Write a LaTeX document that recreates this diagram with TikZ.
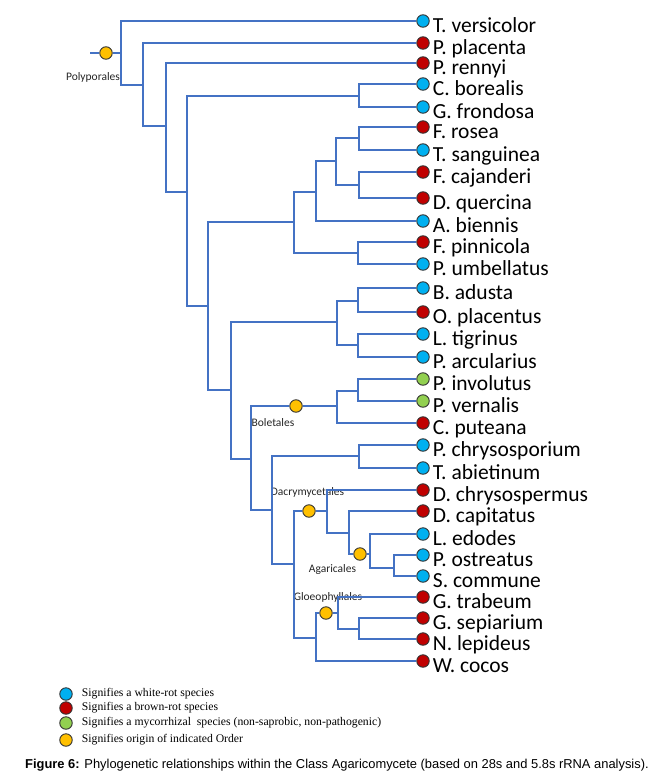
\documentclass[tikz,border=0pt]{standalone}
\usepackage{fontspec}
\usetikzlibrary{positioning}
\newfontfamily\carl{Carlito}
\newfontfamily\tnr{Liberation Serif}
\newfontfamily\ars{Liberation Sans}
\definecolor{treeblue}{RGB}{68,114,196}
\definecolor{whiterot}{RGB}{0,176,240}
\definecolor{brownrot}{RGB}{192,0,0}
\definecolor{mycor}{RGB}{146,208,80}
\definecolor{orderc}{RGB}{255,192,0}

\tikzstyle{wr} = [circle, draw=black!80, fill=whiterot, minimum size=12.5pt, inner sep=0pt, line width=0.9pt]
\tikzstyle{br} = [circle, draw=black!80, fill=brownrot, minimum size=12.5pt, inner sep=0pt, line width=0.9pt]
\tikzstyle{my} = [circle, draw=black!80, fill=mycor, minimum size=12.5pt, inner sep=0pt, line width=0.9pt]
\tikzstyle{od} = [circle, draw=black!80, fill=orderc, minimum size=12.5pt, inner sep=0pt, line width=0.9pt]
\tikzstyle{sp} = [font=\carl\fontsize{21.5}{24}\selectfont, inner sep=0pt, text height=14pt, text depth=4pt, yshift=-6pt]
\tikzstyle{ol} = [font=\carl\fontsize{11.5}{13}\selectfont, text=black!85, inner sep=0pt]
\tikzstyle{lg} = [font=\tnr\fontsize{11.7}{13}\selectfont, inner sep=0pt, text height=8pt, text depth=2.5pt]
\tikzstyle{capt} = [font=\ars\fontsize{12.9}{15}\selectfont, inner sep=0pt, anchor=base west]
\tikzstyle{ln} = [draw=treeblue, line width=1.3pt]

\begin{document}
\begin{tikzpicture}[x=1pt,y=-1pt]
	\useasboundingbox (0,0) rectangle (654,779);

	% leaves
	\node [wr] (tv) at (423,21) {};
	\node [br] (pp) at (423,43) {};
	\node [br] (pr) at (423,63) {};
	\node [wr] (cb) at (423,84) {};
	\node [wr] (gf) at (423,107) {};
	\node [br] (fr) at (423,127) {};
	\node [wr] (ts) at (423,150) {};
	\node [br] (fc) at (423,172) {};
	\node [br] (dq) at (423,198) {};
	\node [wr] (ab) at (423,221) {};
	\node [br] (fp) at (423,242) {};
	\node [wr] (pu) at (423,264) {};
	\node [wr] (ba) at (423,288) {};
	\node [br] (op) at (423,312) {};
	\node [wr] (lt) at (423,334) {};
	\node [wr] (pa) at (423,357) {};
	\node [my] (pi) at (423,379) {};
	\node [my] (pv) at (423,401) {};
	\node [br] (cp) at (423,423) {};
	\node [wr] (pc) at (423,445) {};
	\node [wr] (ta) at (423,468) {};
	\node [br] (dch) at (423,490) {};
	\node [br] (dca) at (423,511) {};
	\node [wr] (le) at (423,534) {};
	\node [wr] (po) at (423,555) {};
	\node [wr] (sc) at (423,576) {};
	\node [br] (gt) at (423,597) {};
	\node [br] (gs) at (423,618) {};
	\node [br] (nl) at (423,639) {};
	\node [br] (wc) at (423,661) {};

	\node [sp, right=3pt of tv] (tvn) {T. versicolor};
	\node [sp, right=3pt of pp] (ppn) {P. placenta};
	\node [sp, right=3pt of pr] (prn) {P. rennyi};
	\node [sp, right=3pt of cb] (cbn) {C. borealis};
	\node [sp, right=3pt of gf] (gfn) {G. frondosa};
	\node [sp, right=3pt of fr] (frn) {F. rosea};
	\node [sp, right=3pt of ts] (tsn) {T. sanguinea};
	\node [sp, right=3pt of fc] (fcn) {F. cajanderi};
	\node [sp, right=3pt of dq] (dqn) {D. quercina};
	\node [sp, right=3pt of ab] (abn) {A. biennis};
	\node [sp, right=3pt of fp] (fpn) {F. pinnicola};
	\node [sp, right=3pt of pu] (pun) {P. umbellatus};
	\node [sp, right=3pt of ba] (ban) {B. adusta};
	\node [sp, right=3pt of op] (opn) {O. placentus};
	\node [sp, right=3pt of lt] (ltn) {L. tigrinus};
	\node [sp, right=3pt of pa] (pan) {P. arcularius};
	\node [sp, right=3pt of pi] (pin) {P. involutus};
	\node [sp, right=3pt of pv] (pvn) {P. vernalis};
	\node [sp, right=3pt of cp] (cpn) {C. puteana};
	\node [sp, right=3pt of pc] (pcn) {P. chrysosporium};
	\node [sp, right=3pt of ta] (tan) {T. abietinum};
	\node [sp, right=3pt of dch] (dchn) {D. chrysospermus};
	\node [sp, right=3pt of dca] (dcan) {D. capitatus};
	\node [sp, right=3pt of le] (len) {L. edodes};
	\node [sp, right=3pt of po] (pon) {P. ostreatus};
	\node [sp, right=3pt of sc] (scn) {S. commune};
	\node [sp, right=3pt of gt] (gtn) {G. trabeum};
	\node [sp, right=3pt of gs] (gsn) {G. sepiarium};
	\node [sp, right=3pt of nl] (nln) {N. lepideus};
	\node [sp, right=3pt of wc] (wcn) {W. cocos};

	% junctions
	\coordinate (s) at (90,53);
	\coordinate (r) at (121,53);
	\coordinate (j2) at (143,85);
	\coordinate (j3) at (166,126);
	\coordinate (j4) at (187,192);
	\coordinate (j5) at (359,96);
	\coordinate (j6) at (208,306);
	\coordinate (j7) at (294,222);
	\coordinate (j8) at (316,192);
	\coordinate (j9) at (336,161);
	\coordinate (j10) at (359,138);
	\coordinate (j11) at (359,185);
	\coordinate (j12) at (358,253);
	\coordinate (j13) at (231,390);
	\coordinate (j14) at (337,322);
	\coordinate (j15) at (358,301);
	\coordinate (j16) at (358,345);
	\coordinate (j17) at (251,459);
	\coordinate (j18) at (337,406);
	\coordinate (j19) at (358,391);
	\coordinate (j20) at (272,510);
	\coordinate (j21) at (359,456);
	\coordinate (j22) at (294,564);
	\coordinate (j23) at (327,511);
	\coordinate (j24) at (349,533);
	\coordinate (j25) at (370,554);
	\coordinate (j26) at (394,568);
	\coordinate (j27) at (316,638);
	\coordinate (j28) at (338,613);
	\coordinate (j29) at (359,629);

	% order origins
	\node [od] (opo) at (106,53) {};
	\node [od] (obo) at (296,406) {};
	\node [od] (oda) at (309,511) {};
	\node [od] (oag) at (360,554) {};
	\node [od] (ogl) at (326,613) {};
	\node [ol] (opot) at (93,77) {Polyporales};
	\node [ol] (obot) at (273,423) {Boletales};
	\node [ol] (odat) at (307.5,492) {Dacrymycetales};
	\node [ol] (oagt) at (332.5,569) {Agaricales};
	\node [ol] (oglt) at (328,597) {Gloeophyllales};

	\draw [ln] (s) -- (opo) -- (r);
	\draw [ln] (r) |- (tv);
	\draw [ln] (r) |- (j2);
	\draw [ln] (j2) |- (pp);
	\draw [ln] (j2) |- (j3);
	\draw [ln] (j3) |- (pr);
	\draw [ln] (j3) |- (j4);
	\draw [ln] (j4) |- (j5);
	\draw [ln] (j4) |- (j6);
	\draw [ln] (j5) |- (cb);
	\draw [ln] (j5) |- (gf);
	\draw [ln] (j6) |- (j7);
	\draw [ln] (j6) |- (j13);
	\draw [ln] (j7) |- (j8);
	\draw [ln] (j7) |- (j12);
	\draw [ln] (j8) |- (j9);
	\draw [ln] (j8) |- (ab);
	\draw [ln] (j9) |- (j10);
	\draw [ln] (j9) |- (j11);
	\draw [ln] (j10) |- (fr);
	\draw [ln] (j10) |- (ts);
	\draw [ln] (j11) |- (fc);
	\draw [ln] (j11) |- (dq);
	\draw [ln] (j12) |- (fp);
	\draw [ln] (j12) |- (pu);
	\draw [ln] (j13) |- (j14);
	\draw [ln] (j13) |- (j17);
	\draw [ln] (j14) |- (j15);
	\draw [ln] (j14) |- (j16);
	\draw [ln] (j15) |- (ba);
	\draw [ln] (j15) |- (op);
	\draw [ln] (j16) |- (lt);
	\draw [ln] (j16) |- (pa);
	\draw [ln] (j17) |- (obo) -- (j18);
	\draw [ln] (j17) |- (j20);
	\draw [ln] (j18) |- (j19);
	\draw [ln] (j18) |- (cp);
	\draw [ln] (j19) |- (pi);
	\draw [ln] (j19) |- (pv);
	\draw [ln] (j20) |- (j21);
	\draw [ln] (j20) |- (j22);
	\draw [ln] (j21) |- (pc);
	\draw [ln] (j21) |- (ta);
	\draw [ln] (j22) |- (oda) -- (j23);
	\draw [ln] (j22) |- (j27);
	\draw [ln] (j23) |- (dch);
	\draw [ln] (j23) |- (j24);
	\draw [ln] (j24) |- (dca);
	\draw [ln] (j24) |- (oag) -- (j25);
	\draw [ln] (j25) |- (le);
	\draw [ln] (j25) |- (j26);
	\draw [ln] (j26) |- (po);
	\draw [ln] (j26) |- (sc);
	\draw [ln] (j27) |- (ogl) -- (j28);
	\draw [ln] (j27) |- (wc);
	\draw [ln] (j28) |- (gt);
	\draw [ln] (j28) |- (j29);
	\draw [ln] (j29) |- (gs);
	\draw [ln] (j29) |- (nl);

	% legend
	\node [wr] (k1) at (66,694) {};
	\node [br] (k2) at (66,708) {};
	\node [my] (k3) at (66,723) {};
	\node [od] (k4) at (66,740) {};
	\node [lg, right=9pt of k1] (k1t) {Signifies a white-rot species};
	\node [lg, right=9pt of k2] (k2t) {Signifies a brown-rot species};
	\node [lg, right=9pt of k3] (k3t) {Signifies a mycorrhizal\ \ species (non-saprobic, non-pathogenic)};
	\node [lg, right=9pt of k4] (k4t) {Signifies origin of indicated Order};

	\node [capt] (fig) at (25,768) {\textbf{Figure 6:} Phylogenetic relationships within the Class Agaricomycete (based on 28s and 5.8s rRNA analysis).};
\end{tikzpicture}
\end{document}
